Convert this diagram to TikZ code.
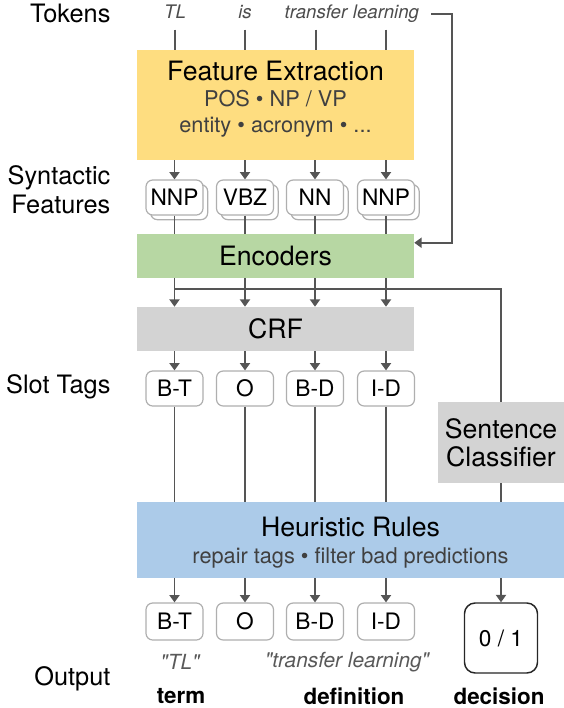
\documentclass[tikz,border=0pt]{standalone}
\usepackage{xcolor}
\usepackage{fontspec}
\setmainfont{TeX Gyre Heros}
\usepackage{tikz}
\definecolor{featyellow}{RGB}{254, 221, 128}
\definecolor{encgreen}{RGB}{183, 215, 163}
\definecolor{crfgray}{RGB}{211, 211, 211}
\definecolor{rulesblue}{RGB}{172, 203, 233}
\definecolor{linegray}{RGB}{85, 85, 85}
\definecolor{tagborder}{RGB}{175, 175, 175}
\usetikzlibrary{arrows.meta, shadows, calc}

\begin{document}
\begin{tikzpicture}[
    x=0.75pt, y=-0.75pt,
    block/.style={rectangle, inner sep=0pt, minimum width=207.75pt, font=\fontsize{20}{21}\selectfont},
    lbl/.style={anchor=east, inner sep=1pt, align=right, font=\fontsize{19}{21.75}\selectfont},
    ttl/.style={inner sep=1pt, font=\fontsize{20}{22}\selectfont},
    sub/.style={inner sep=1pt, text=black!75, font=\fontsize{16.3}{19}\selectfont},
    tok/.style={inner sep=1pt, text=black!70, text height=10pt, text depth=3pt, font=\fontsize{14}{16}\selectfont\itshape},
    tag/.style={rectangle, rounded corners=5pt, draw=tagborder, line width=0.9pt, fill=white, inner sep=0pt, minimum width=42.75pt, minimum height=26.25pt, font=\fontsize{17}{19}\selectfont},
    feat/.style={tag, copy shadow={shadow xshift=3.5pt, shadow yshift=-3.5pt}},
    quoted/.style={inner sep=1pt, text=black!65, font=\fontsize{15.6}{18}\selectfont\itshape},
    result/.style={inner sep=1pt, font=\fontsize{16.8}{19}\selectfont\bfseries},
    conn/.style={line width=1.4pt, draw=linegray},
    arrow/.style={conn, -{Triangle[length=5.5pt, width=7.5pt]}}
]
    \useasboundingbox (0,0) rectangle (564,708);

    % Tokens
    \node[lbl] (toklbl) at (112,13) {Tokens};
    \node[tok] (tok1) at (175,14) {TL};
    \node[tok] (tok2) at (245,14) {is};
    \node[tok] (tok3) at (316,14) {transfer};
    \node[tok] (tok4) at (386,14) {learning};
    \coordinate (tokend) at (431,14);
    \coordinate (brk) at (452,14);

    % Feature extraction
    \node[block, fill=featyellow, minimum height=82.5pt] (fe) at (275.5,105) {};
    \node[ttl] (fetitle) at (275.5,71) {Feature Extraction};
    \node[sub] (fesub1) at (275.5,99) {POS • NP / VP};
    \node[sub] (fesub2) at (275.5,127) {entity • acronym • ...};

    \draw[conn, shorten <=4pt] (tok1.south) -- (tok1 |- fe.north);
    \draw[conn, shorten <=4pt] (tok2.south) -- (tok2 |- fe.north);
    \draw[conn, shorten <=4pt] (tok3.south) -- (tok3 |- fe.north);
    \draw[conn, shorten <=4pt] (tok4.south) -- (tok4 |- fe.north);

    % Syntactic features
    \node[lbl] (synlbl) at (112,190) {Syntactic\\Features};
    \node[feat] (f1) at (174.5,197.5) {NNP};
    \node[feat] (f2) at (245,197.5) {VBZ};
    \node[feat] (f3) at (315,197.5) {NN};
    \node[feat] (f4) at (386,197.5) {NNP};

    \draw[arrow] (f1 |- fe.south) -- (f1.north);
    \draw[arrow] (f2 |- fe.south) -- (f2.north);
    \draw[arrow] (f3 |- fe.south) -- (f3.north);
    \draw[arrow] (f4 |- fe.south) -- (f4.north);

    % Encoders
    \node[block, fill=encgreen, minimum height=33pt] (enc) at (275.5,256) {Encoders};

    \draw[conn] (f1.south) -- (f1 |- enc.north);
    \draw[conn] (f2.south) -- (f2 |- enc.north);
    \draw[conn] (f3.south) -- (f3 |- enc.north);
    \draw[conn] (f4.south) -- (f4 |- enc.north);

    \draw[arrow] (tokend) -- (brk) |- ($(enc.north east)+(0,9)$);

    % CRF
    \node[block, fill=crfgray, minimum height=33pt] (crf) at (275.5,329) {CRF};

    \draw[arrow] (f1 |- enc.south) -- (f1 |- crf.north);
    \draw[arrow] (f2 |- enc.south) -- (f2 |- crf.north);
    \draw[arrow] (f3 |- enc.south) -- (f3 |- crf.north);
    \draw[arrow] (f4 |- enc.south) -- (f4 |- crf.north);

    % Slot tags
    \node[lbl] (slotlbl) at (112,387) {Slot Tags};
    \node[tag] (t1) at (174.5,388.5) {B-T};
    \node[tag] (t2) at (245,388.5) {O};
    \node[tag] (t3) at (315,388.5) {B-D};
    \node[tag] (t4) at (386,388.5) {I-D};

    \draw[arrow] (t1 |- crf.south) -- (t1.north);
    \draw[arrow] (t2 |- crf.south) -- (t2.north);
    \draw[arrow] (t3 |- crf.south) -- (t3.north);
    \draw[arrow] (t4 |- crf.south) -- (t4.north);

    % Sentence classifier
    \node[block, fill=crfgray, minimum width=94.5pt, minimum height=60.75pt, align=center] (sc) at (501,442.5) {Sentence\\Classifier};

    \draw[conn] ($(enc.south -| f1)+(0,11)$) -| (sc.north);

    % Heuristic rules
    \node[block, fill=rulesblue, minimum width=320.25pt, minimum height=57pt] (hr) at (350.5,540) {};
    \node[ttl] (hrtitle) at (350.5,527) {Heuristic Rules};
    \node[sub] (hrsub) at (350.5,558) {repair tags • filter bad predictions};

    \draw[conn] (t1.south) -- (t1 |- hr.north);
    \draw[conn] (t2.south) -- (t2 |- hr.north);
    \draw[conn] (t3.south) -- (t3 |- hr.north);
    \draw[conn] (t4.south) -- (t4 |- hr.north);
    \draw[conn] (sc.south) -- (sc |- hr.north);

    % Output
    \node[tag, minimum height=27.75pt] (o1) at (174.5,621.5) {B-T};
    \node[tag, minimum height=27.75pt] (o2) at (245,621.5) {O};
    \node[tag, minimum height=27.75pt] (o3) at (315,621.5) {B-D};
    \node[tag, minimum height=27.75pt] (o4) at (386,621.5) {I-D};
    \node[tag, draw=black!85, line width=1.1pt, rounded corners=8pt, minimum width=54.75pt, minimum height=52.5pt] (dec) at (501,638) {0 / 1};

    \draw[arrow] (o1 |- hr.south) -- (o1.north);
    \draw[arrow] (o2 |- hr.south) -- (o2.north);
    \draw[arrow] (o3 |- hr.south) -- (o3.north);
    \draw[arrow] (o4 |- hr.south) -- (o4.north);
    \draw[arrow] (dec |- hr.south) -- (dec.north);

    \node[quoted] (q1) at (180,662) {\textquotedbl TL\textquotedbl};
    \node[quoted] (q2) at (347,662) {\textquotedbl transfer learning\textquotedbl};

    \node[lbl] (outlbl) at (112,679) {Output};
    \node[result] (r1) at (181,696) {term};
    \node[result] (r2) at (354,696) {definition};
    \node[result] (r3) at (499,696) {decision};

\end{tikzpicture}
\end{document}
